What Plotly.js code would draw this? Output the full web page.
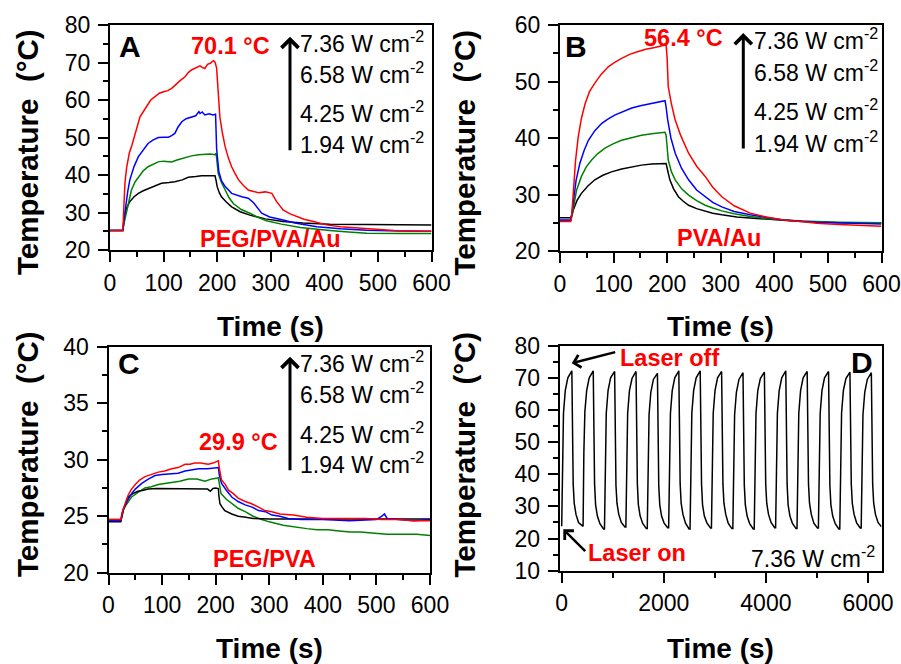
<!DOCTYPE html>
<html><head><meta charset="utf-8">
<script src="https://cdn.plot.ly/plotly-3.0.1.min.js"></script>
<style>html,body{margin:0;padding:0;background:#fff}#chart{width:901px;height:664px}</style>
</head><body><div id="chart"></div>
<script>
// ---------- Panel A: PEG/PVA/Au ----------
const A_red_t = [0,24,26,28,31,36,41,47,56,68,76,84,92,100,108,115,124,132,140,146,152,160,168,172,177,182,187,193,196,199,202,205,210,215,221,227,233,240,249,258,268,277,290,302,311,323,335,348,362,380,404,430,466,500,530,565,600];
const A_red_T = [25.2,25.2,32,38,42,45.8,48,51.1,55.5,58.2,60,60.9,61.8,62.2,62.5,63.1,64.4,65.3,66.2,67.3,68,68.6,69.1,68.7,68.4,69.5,69.8,70.5,70.1,68.5,63,55.5,51,47.5,44.5,42.2,40.5,38.7,37.2,36,35.6,35.3,35.5,35.1,32.9,30.7,29.7,28.9,28.2,27.6,26.7,26.2,25.8,25.5,25.2,25.1,25.0];
const A_blue_t = [0,24,26,29,33,37,45,53,62,71,80,90,100,109,115,121,127,134,142,152,160,166,168,172,177,185,192,197,199,203,208,215,227,246,258,268,283,298,308,323,345,386,430,479,540,600];
const A_blue_T = [25.2,25.2,28,31.6,35.5,38.7,42.3,44.9,46.8,48.4,49.3,50,50.1,50.1,50.5,51.1,52.8,54.2,55,55.5,55.8,56.9,56.4,56.8,56,56.3,56,56.2,47,41,38.5,36.9,35.1,34.2,33.8,32.6,29.8,28.8,28.4,28,27.2,26.2,25.7,25.3,25.1,25.0];
const A_green_t = [0,24,26,29,34,40,47,53,62,71,80,90,100,115,125,134,143,152,165,177,187,196,198,202,208,215,222,230,245,261,276,292,320,355,380,410,445,479,540,600];
const A_green_T = [25.2,25.2,27,28.9,32.8,36,38.2,39.5,41.1,42.2,42.9,43.5,43.7,43.5,44.0,44.4,44.8,45.1,45.4,45.5,45.6,45.4,45.8,40.4,38,36,34,32.4,30.8,29.8,28.7,27.8,26.9,26.0,25.6,25.2,24.8,24.5,24.4,24.4];
const A_black_t = [0,24,26,28,32,37,45,53,62,71.5,85,96,110,121,135,146,160,171,185,196,198,200,204,208,217,227,243,261,290,323,360,410,480,540,600];
const A_black_T = [25.2,25.2,27.5,29.8,31.5,32.9,34.2,35.1,35.8,36.4,37.1,37.8,38,38.2,38.7,39.4,39.6,39.8,39.8,39.8,38.5,36.9,35.3,34.2,32.8,31.5,30.2,29.3,28.3,27.6,27.2,26.9,26.8,26.7,26.7];

// ---------- Panel B: PVA/Au ----------
const B_red_t = [0,20,22,25,29,34,40,47,55,65,77,90,102,115,130,146,160,177,190,198,200,202,208,215,225,240,255,271,285,302,325,355,385,417,450,479,520,560,600];
const B_red_T = [25.2,25.2,26.5,31.4,36,40.2,43.5,46.1,48.2,49.7,51.3,52.6,53.4,54.1,54.8,55.3,55.7,56.0,56.3,56.5,54,49.1,46,43.2,40.5,37.3,35,33.2,31.3,29.6,28,26.7,26,25.5,25.2,24.9,24.7,24.5,24.4];
const B_blue_t = [0,20,22,25,30,37,45,53,65,78,90,103,118,134,150,171,185,196,198,201,207,215,227,240,255,271,285,302,325,355,385,417,479,540,600];
const B_blue_T = [25.5,25.5,26.5,29,32.5,35.5,37.8,39.6,41.3,42.6,43.4,44.1,44.7,45.3,45.7,46.1,46.4,46.6,45.5,43.2,40,37.3,34.6,32.6,30.8,29.6,28.6,27.8,27,26.4,25.9,25.5,25.1,24.9,24.8];
const B_green_t = [0,20,22,25,31,40,49,59,70,84,100,115,133,152,175,196,198,202,208,215,227,240,255,271,285,302,325,355,400,450,520,600];
const B_green_T = [25.4,25.4,26,27.8,30.8,33.2,34.9,36.1,37.2,38.2,39,39.6,40.1,40.5,40.8,41,40.5,36.1,34,32.6,31,29.9,28.9,28.1,27.6,27.1,26.6,26.1,25.6,25.3,25.1,25.0];
const B_black_t = [0,20,22,25,32,40,52,65,80,96,115,134,152,171,185,198,201,205,212,221,230,240,255,271,285,302,330,360,400,450,520,600];
const B_black_T = [25.9,25.9,26.3,27.3,29,30.2,31.5,32.6,33.4,34,34.5,34.9,35.2,35.4,35.5,35.5,34.2,32.6,31,29.6,28.8,28.1,27.5,27,26.7,26.4,26,25.8,25.5,25.2,25.0,25.0];

// ---------- Panel C: PEG/PVA ----------
const C_red_t = [0,22,23.5,25,28,33,37,43,50,58,68,80,93,105,118,130,143,152,161,172,186,195,200,205,207,211,218,224,233,242,255,267,280,292,305,320,345,370,400,420,450,480,510,540,570,600];
const C_red_T = [24.7,24.7,24.7,25.2,25.7,26.4,26.9,27.4,27.8,28.2,28.5,28.7,28.9,29.0,29.2,29.3,29.6,29.6,29.7,29.7,29.6,29.7,29.8,29.9,29.2,28.2,27.8,27.3,27.0,26.6,26.3,26.1,25.8,25.5,25.4,25.2,25.1,24.9,24.8,24.8,24.8,24.8,24.7,24.7,24.6,24.6];
const C_blue_t = [0,23,25,28,33,38,43,50,62,75,87,100,118,130,143,155,168,185,200,205,207,211,220,230,242,255,268,280,293,305,320,335,360,400,450,500,510,515,520,540,570,600];
const C_blue_T = [24.6,24.6,25.2,25.7,26.2,26.6,27.0,27.4,27.9,28.3,28.6,28.7,28.8,28.8,29.0,29.1,29.2,29.2,29.3,29.3,28.6,27.9,27.3,26.7,26.3,26.0,25.8,25.5,25.4,25.1,25.0,24.8,24.7,24.7,24.6,24.7,25.0,25.2,24.8,24.7,24.6,24.7];
const C_green_t = [0,23,25,28,33,43,55,68,80,93,105,118,133,149,165,180,193,205,207,210,220,230,242,255,270,286,300,326,350,370,389,410,430,451,470,490,519,550,575,600];
const C_green_T = [24.7,24.7,24.9,25.6,26.0,26.7,27.1,27.5,27.6,27.8,27.9,28.0,28.1,28.3,28.3,28.1,28.3,28.4,27.8,27.0,26.5,26.1,25.7,25.4,25.0,24.7,24.5,24.2,24.0,23.9,23.8,23.8,23.7,23.6,23.6,23.5,23.4,23.4,23.4,23.3];
const C_black_t = [0,23,25,28,33,37,45,55,65,74,90,120,150,175,185,190,195,200,205,206,208,212,217,230,242,256,270,300,350,400,450,500,550,600];
const C_black_T = [24.5,24.5,25.0,25.6,26.2,26.7,27.0,27.2,27.3,27.4,27.45,27.45,27.45,27.45,27.4,27.2,27.45,27.5,27.45,26.8,26.1,25.8,25.5,25.2,25.0,24.9,24.8,24.75,24.75,24.75,24.75,24.75,24.75,24.75];

// ---------- Panel D: cycling at 7.36 W cm-2 ----------
const D_t = [
  0,15,35,70,120,199,212,225,245,280,330,400,
  419,434,454,489,539,618,631,644,664,699,749,819,
  838,853,873,908,958,1037,1050,1063,1083,1118,1168,1238,
  1257,1272,1292,1327,1377,1456,1469,1482,1502,1537,1587,1657,
  1676,1691,1711,1746,1796,1875,1888,1901,1921,1956,2006,2076,
  2095,2110,2130,2165,2215,2294,2307,2320,2340,2375,2425,2495,
  2514,2529,2549,2584,2634,2713,2726,2739,2759,2794,2844,2914,
  2933,2948,2968,3003,3053,3132,3145,3158,3178,3213,3263,3333,
  3352,3367,3387,3422,3472,3551,3564,3577,3597,3632,3682,3752,
  3771,3786,3806,3841,3891,3970,3983,3996,4016,4051,4101,4171,
  4190,4205,4225,4260,4310,4389,4402,4415,4435,4470,4520,4590,
  4609,4624,4644,4679,4729,4808,4821,4834,4854,4889,4939,5009,
  5028,5043,5063,5098,5148,5227,5240,5253,5273,5308,5358,5428,
  5447,5462,5482,5517,5567,5646,5659,5672,5692,5727,5777,5847,
  5866,5881,5901,5936,5986,6065,6078,6091,6111,6146,6196,6260];
const D_T = [
  23.8,46,59,66,70,72.2,50,37,31,27.5,25.0,23.8,
  23.8,46.5,59.5,66,70,72.2,50.5,37,30.5,27,24.6,23.0,
  23.0,46,59,66,70,72.0,50,36.5,31,27.5,25,23.6,
  23.6,46,59,66,69.8,72.0,50,37,30.5,27,24.7,23.1,
  23.1,45.5,58.5,65.5,69.5,71.4,50,36.5,30.5,27,24.8,23.4,
  23.4,46,59,66,70,72.2,50.5,37,31,27.5,24.8,23.0,
  23.0,46,59,66,70,72.2,50,37,30.5,27,24.9,23.3,
  23.3,46,59,66,70,72.0,50,37,31,27.5,24.7,23.1,
  23.1,45.5,58.5,65.5,69.5,71.6,50,36.5,30.5,27,24.6,23.0,
  23.0,46,59,66,69.8,71.8,50,37,31,27.5,25,23.4,
  23.4,46,59,66,70,72.2,50.5,37,30.5,27,24.7,23.1,
  23.1,46,59,66,70,72.0,50,37,31,27.5,24.8,23.3,
  23.3,46,59,66,70,72.0,50,36.5,30.5,27,24.6,23.0,
  23.0,46,59,66,69.8,71.8,50,37,31,27.5,24.9,23.3,
  23.3,45.5,58.5,65.5,69.5,71.6,50,37,31,27.5,25,23.7];

const powerLabels = ['7.36','6.58','4.25','1.94'];

// ---------- layout helpers (pixel -> paper) ----------
const W = 901, H = 664;
const px = x => x / W, py = y => 1 - y / H;
const FONT = 'Arial, "Liberation Sans", sans-serif';
const RED = '#ff0000', BLUE = '#0000ff', GREEN = '#008000', BLACK = '#000000';

function tr(x, y, color, xa, ya) {
  return {x: x, y: y, type: 'scatter', mode: 'lines', line: {color: color, width: 1.5},
          xaxis: xa, yaxis: ya, hoverinfo: 'skip', showlegend: false};
}
const data = [
  tr(A_black_t, A_black_T, BLACK, 'x', 'y'), tr(A_green_t, A_green_T, GREEN, 'x', 'y'),
  tr(A_blue_t, A_blue_T, BLUE, 'x', 'y'), tr(A_red_t, A_red_T, RED, 'x', 'y'),
  tr(B_black_t, B_black_T, BLACK, 'x2', 'y2'), tr(B_green_t, B_green_T, GREEN, 'x2', 'y2'),
  tr(B_blue_t, B_blue_T, BLUE, 'x2', 'y2'), tr(B_red_t, B_red_T, RED, 'x2', 'y2'),
  tr(C_green_t, C_green_T, GREEN, 'x3', 'y3'), tr(C_black_t, C_black_T, BLACK, 'x3', 'y3'),
  tr(C_blue_t, C_blue_T, BLUE, 'x3', 'y3'), tr(C_red_t, C_red_T, RED, 'x3', 'y3'),
  tr(D_t, D_T, BLACK, 'x4', 'y4')
];

function mainAxis(dom, anchor, range, dtick, minor, isX) {
  return {
    domain: dom, anchor: anchor, range: range, autorange: false, fixedrange: true,
    tick0: 0, dtick: dtick, ticks: 'outside', ticklen: 10, tickwidth: 2, tickcolor: '#000',
    minor: {ticks: 'outside', ticklen: 5, tickwidth: 2, tickcolor: '#000', tick0: 0, dtick: minor},
    showline: true, linewidth: 2, linecolor: '#000', mirror: true,
    showgrid: false, zeroline: false,
    tickfont: {family: FONT, size: 23, color: '#000'},
    ticklabelstandoff: isX ? 1 : 3
  };
}
function mirrorAxis(over, anchor, range, dtick, side) {
  return {
    overlaying: over, anchor: anchor, side: side, range: range, autorange: false, fixedrange: true,
    tick0: 0, dtick: dtick, ticks: 'inside', ticklen: 4, tickwidth: 1.5, tickcolor: '#000',
    showticklabels: false, showline: false, showgrid: false, zeroline: false
  };
}

const domA = {x: [px(110), px(431.5)], y: [py(250), py(25)]};
const domB = {x: [px(560), px(881.5)], y: [py(251), py(25)]};
const domC = {x: [px(108.5), px(430)], y: [py(572.7), py(346.7)]};
const domD = {x: [px(559.7), px(881.7)], y: [py(570.7), py(345.7)]};
const rX = [0, 600], rXD = [-39, 6268];
const rA = [20, 80], rB = [20, 60], rC = [20, 40], rD = [10, 80];

const annotations = [];
function txt(text, x, y, size, color, bold, xanchor) {
  annotations.push({text: bold ? '<b>' + text + '</b>' : text, x: px(x), y: py(y), xref: 'paper', yref: 'paper',
    showarrow: false, xanchor: xanchor || 'center', yanchor: 'middle',
    font: {family: FONT, size: size, color: color}});
}
function arrow(hx, hy, tx, ty, w, s) {
  annotations.push({text: '', x: px(hx), y: py(hy), xref: 'paper', yref: 'paper',
    ax: tx - hx, ay: ty - hy, showarrow: true, arrowhead: 4, arrowwidth: w, arrowsize: s,
    arrowcolor: '#000', standoff: 0, startstandoff: 0});
}

// panel letters
txt('A', 130, 47, 30, '#000', true);
txt('B', 576, 47, 30, '#000', true);
txt('C', 129, 363, 30, '#000', true);
txt('D', 862, 362, 30, '#000', true);
// red labels
txt('70.1 °C', 230.5, 45.7, 23.5, RED, true);
txt('56.4 °C', 683.5, 37.7, 23.5, RED, true);
txt('29.9 °C', 238.5, 441.7, 23.5, RED, true);
txt('PEG/PVA/Au', 270, 239, 23.5, RED, true);
txt('PVA/Au', 718.5, 238, 23.5, RED, true);
txt('PEG/PVA', 264.6, 559, 23.5, RED, true);
txt('Laser off', 669, 358, 23.5, RED, true);
txt('Laser on', 637, 552.7, 23.5, RED, true);
// power density lists
const rowsA = [41.7, 73.3, 111.7, 143.3];
const rowsB = [39, 70.7, 110, 141.7];
const rowsC = [361.7, 393.3, 432.7, 463.3];
powerLabels.forEach((p, i) => {
  txt(p + ' W cm<sup>-2</sup>', 298, rowsA[i], 23, '#000', false, 'left');
  txt(p + ' W cm<sup>-2</sup>', 752, rowsB[i], 23, '#000', false, 'left');
  txt(p + ' W cm<sup>-2</sup>', 298, rowsC[i], 23, '#000', false, 'left');
});
txt(powerLabels[0] + ' W cm<sup>-2</sup>', 749, 556.7, 23, '#000', false, 'left');
// arrows
arrow(290, 36.7, 290, 151.7, 3, 1.1);
arrow(743.3, 33, 743.3, 150, 3, 1.1);
arrow(290, 356.7, 290, 471.7, 3, 1.1);
arrow(571.7, 363.3, 616.7, 351.7, 2.5, 1.0);
arrow(563.3, 529.3, 586.7, 552.7, 2.5, 1.0);
// axis titles
const yTitle = 'Temperature\u00A0 (°C)';
[[27.5, 152.5], [464, 152.5], [27.5, 454.5], [464, 454.5]].forEach(([x, y]) => {
  annotations.push({text: '<b>' + yTitle + '</b>', x: px(x), y: py(y), xref: 'paper', yref: 'paper',
    showarrow: false, textangle: -90, xanchor: 'center', yanchor: 'middle',
    font: {family: FONT, size: 29.5, color: '#000'}});
});
[[270, 326], [720, 326], [269, 648.5], [720, 648.5]].forEach(([x, y]) => txt('Time (s)', x, y, 28, '#000', true));

const layout = {
  width: W, height: H, margin: {l: 0, r: 0, t: 0, b: 0},
  paper_bgcolor: '#fff', plot_bgcolor: '#fff', showlegend: false,
  font: {family: FONT, color: '#000'},
  xaxis: mainAxis(domA.x, 'y', rX, 100, 50, true),
  yaxis: mainAxis(domA.y, 'x', rA, 10, 5, false),
  xaxis2: mainAxis(domB.x, 'y2', rX, 100, 50, true),
  yaxis2: mainAxis(domB.y, 'x2', rB, 10, 5, false),
  xaxis3: mainAxis(domC.x, 'y3', rX, 100, 50, true),
  yaxis3: mainAxis(domC.y, 'x3', rC, 5, 2.5, false),
  xaxis4: mainAxis(domD.x, 'y4', rXD, 2000, 1000, true),
  yaxis4: mainAxis(domD.y, 'x4', rD, 10, 5, false),
  xaxis5: mirrorAxis('x', 'y', rX, 50, 'top'),
  yaxis5: mirrorAxis('y', 'x', rA, 5, 'right'),
  xaxis6: mirrorAxis('x2', 'y2', rX, 50, 'top'),
  yaxis6: mirrorAxis('y2', 'x2', rB, 5, 'right'),
  xaxis7: mirrorAxis('x3', 'y3', rX, 50, 'top'),
  yaxis7: mirrorAxis('y3', 'x3', rC, 2.5, 'right'),
  xaxis8: mirrorAxis('x4', 'y4', rXD, 1000, 'top'),
  yaxis8: mirrorAxis('y4', 'x4', rD, 5, 'right'),
  annotations: annotations
};

Plotly.newPlot('chart', data, layout, {staticPlot: true, displayModeBar: false});
</script></body></html>
